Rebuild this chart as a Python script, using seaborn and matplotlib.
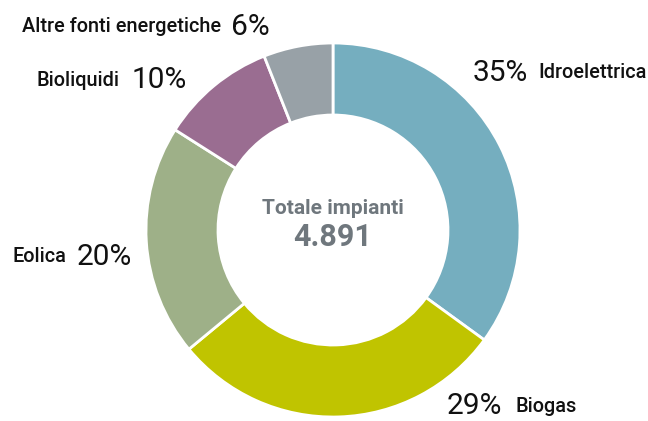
"""Donut chart: impianti per fonte energetica."""

import matplotlib
matplotlib.use("Agg")
import matplotlib.pyplot as plt
import seaborn as sns

# data
fonti = ["Idroelettrica", "Biogas", "Eolica", "Bioliquidi", "Altre fonti energetiche"]
quote = [35, 29, 20, 10, 6]
colori = ["#75aebf", "#c0c400", "#9eb088", "#9a6d91", "#98a1a7"]
totale_label = "Totale impianti"
totale_valore = "4.891"

W, H = 648, 421
CX, CY, R = 333, 230, 187  # centro e raggio in pixel (y dall'alto)

sns.set_theme(style="white")
plt.rcParams["font.family"] = ["Roboto", "DejaVu Sans"]

fig = plt.figure(figsize=(W / 100, H / 100), dpi=100)
ax = fig.add_axes([0, 0, 1, 1])
ax.axis("off")

ax.pie(
    quote,
    colors=colori,
    startangle=90,
    counterclock=False,
    radius=1.0,
    wedgeprops=dict(width=0.385, edgecolor="white", linewidth=2),
)
ax.set_xlim(-CX / R, (W - CX) / R)
ax.set_ylim(-(H - CY) / R, CY / R)
ax.set_aspect("auto")


def px(x, y):
    return x / W, 1 - y / H


# percentuale prima o dopo il nome, posizione del primo testo (pixel), spazio
label_pos = {
    "Idroelettrica": ("pct_first", 473, 73, 10),
    "Biogas": ("pct_first", 447, 406, 13),
    "Eolica": ("name_first", 13, 257, 10),
    "Bioliquidi": ("name_first", 37, 80, 12),
    "Altre fonti energetiche": ("name_first", 22, 27, 10),
}

NAME_SIZE, PCT_SIZE = 14.3, 21.5

renderer = fig.canvas.get_renderer()
for nome, q in zip(fonti, quote):
    order, x, y, gap = label_pos[nome]
    if order == "pct_first":
        parts = [(f"{q}%", PCT_SIZE, "normal"), (nome, NAME_SIZE, "medium")]
    else:
        parts = [(nome, NAME_SIZE, "medium"), (f"{q}%", PCT_SIZE, "normal")]
    cur = x
    for testo, size, weight in parts:
        t = fig.text(cur / W, 1 - y / H, testo, fontsize=size, fontweight=weight,
                     color="#111111", ha="left", va="center")
        cur = t.get_window_extent(renderer).x1 + gap

fig.text(*px(CX, 209), totale_label, fontsize=15, fontweight="bold",
         color="#6f777d", ha="center", va="center")
fig.text(*px(CX, 237), totale_valore, fontsize=22, fontweight="bold",
         color="#6f777d", ha="center", va="center")

fig.savefig("out.png", dpi=100)
